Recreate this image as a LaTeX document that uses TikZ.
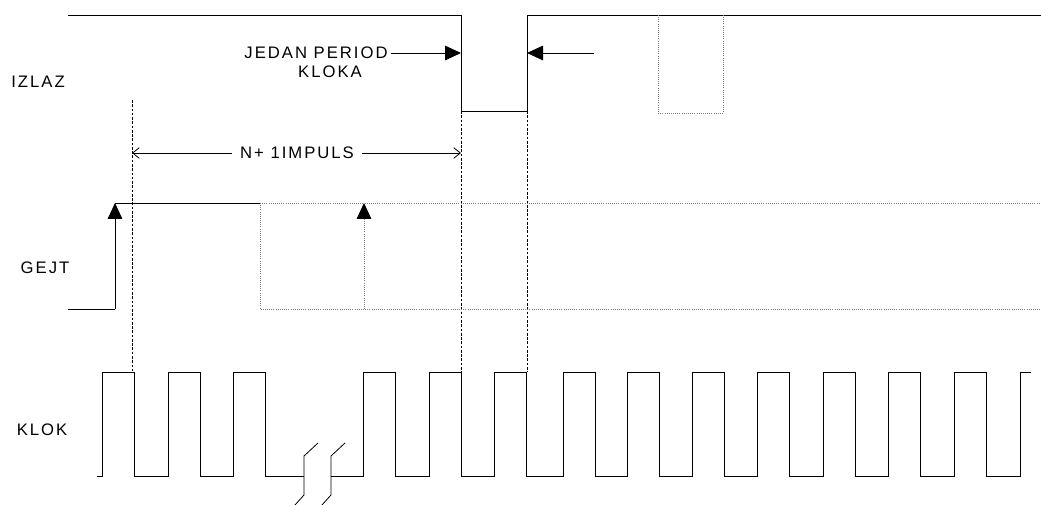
\documentclass[tikz,border=0pt]{standalone}
\usepackage{fontspec}
\newfontfamily\lblfont{Liberation Sans}[LetterSpace=12]
\usetikzlibrary{arrows.meta}
\usetikzlibrary{positioning}

\begin{document}
\begin{tikzpicture}[x=0.75pt,y=-0.75pt,line width=0.6pt,
  lbl/.style={font=\lblfont\fontsize{12.5}{14}\selectfont,inner sep=2pt},
  wave/.style={line join=miter},
  faint/.style={densely dotted,gray},
  guide/.style={dash pattern=on 2pt off 1.2pt},
  tip/.style={-{Triangle[length=12pt,width=11pt,black]}},
  span/.style={-{Straight Barb[length=5pt,width=8pt]}}]
\useasboundingbox (0,0) rectangle (1041,505);
\node[lbl] (izlaz) at (38,82) {IZLAZ};
\node[lbl] (gejt) at (45,268) {GEJT};
\node[lbl] (klok) at (42,430) {KLOK};
\node[lbl] (jedan) at (316,53) {JEDAN PERIOD};
\node[lbl] (kloka) at (330,72) {KLOKA};
\node[lbl,inner sep=6pt] (impuls) at (297,153) {N+ 1IMPULS};
\coordinate (pl) at (461,53);
\coordinate (pr) at (527,53);
\coordinate (rs) at (594,53);
\coordinate (gl) at (132,153);
\coordinate (gr) at (461,153);
\coordinate (ga) at (115,309);
\coordinate (gb) at (115,203);
\coordinate (ha) at (364,309);
\coordinate (hb) at (364,203);
\draw[wave] (68,15) -- (461,15) -- (461,111) -- (527,111) -- (527,15) -- (1041,15);
\draw[faint] (658,15) -- (658,113) -- (723,113) -- (723,15);
\draw[tip] (jedan.east) -- (pl);
\draw[tip] (rs) -- (pr);
\draw[guide] (132,100) -- (132,372);
\draw[guide] (461,111) -- (461,372);
\draw[guide] (527,111) -- (527,372);
\draw[span] (impuls) -- (gl);
\draw[span] (impuls) -- (gr);
\draw[wave] (68,309) -- (ga);
\draw[tip] (ga) -- (gb);
\draw[wave] (gb) -- (260,203);
\draw[faint] (260,203) -- (1041,203);
\draw[faint] (260,203) -- (260,309) -- (1041,309);
\draw[faint,tip] (ha) -- (hb);
\draw[wave] (97,476) \foreach \r in {102,168,233}
  { -- (\r,476) -- (\r,372) -- ({\r+32},372) -- ({\r+32},476) } -- (304,476);
\draw[wave] (331,476) \foreach \r in {363,429,494,563,627,692,757,823,888,954}
  { -- (\r,476) -- (\r,372) -- ({\r+32},372) -- ({\r+32},476) }
  -- (1020,476) -- (1020,372) -- (1031,372);
\draw (295,505) -- (304,495) -- (304,456) -- (318,443);
\draw (322,505) -- (331,495) -- (331,456) -- (345,443);
\end{tikzpicture}
\end{document}
